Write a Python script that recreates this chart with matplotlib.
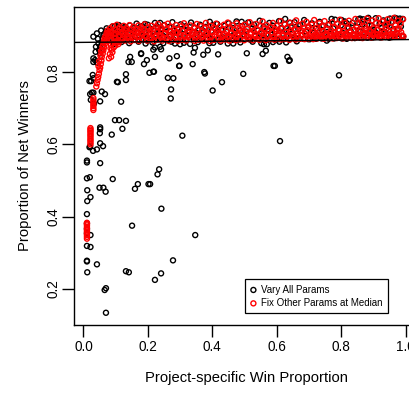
import numpy as np
import matplotlib
matplotlib.use("Agg")
import matplotlib.pyplot as plt

plt.rcParams["font.family"] = ["Liberation Sans", "DejaVu Sans"]

# (project-specific win proportion, proportion of net winners)
# black: all params varied
vary_pts = [
    # scattered lower cloud
    (0.219, 0.801), (0.297, 0.817), (0.339, 0.822), (0.377, 0.796), (0.262, 0.784),
    (0.279, 0.783), (0.272, 0.752), (0.271, 0.727), (0.401, 0.749), (0.430, 0.772),
    (0.496, 0.795), (0.590, 0.817), (0.594, 0.817), (0.638, 0.831), (0.793, 0.791),
    (0.307, 0.624), (0.610, 0.609), (0.235, 0.531), (0.230, 0.517), (0.207, 0.490),
    (0.242, 0.422), (0.347, 0.349), (0.278, 0.279), (0.241, 0.243), (0.222, 0.225),
    (0.052, 0.647), (0.052, 0.642), (0.051, 0.631), (0.088, 0.627), (0.121, 0.643),
    (0.098, 0.667), (0.111, 0.667), (0.132, 0.665), (0.052, 0.603), (0.061, 0.595),
    (0.019, 0.592), (0.030, 0.582), (0.042, 0.586), (0.011, 0.555), (0.011, 0.550),
    (0.052, 0.548), (0.011, 0.506), (0.020, 0.509), (0.091, 0.504), (0.012, 0.473),
    (0.022, 0.454), (0.012, 0.443), (0.050, 0.480), (0.062, 0.480), (0.069, 0.469),
    (0.160, 0.477), (0.169, 0.490), (0.202, 0.490), (0.011, 0.407), (0.011, 0.381),
    (0.011, 0.366), (0.011, 0.354), (0.022, 0.349), (0.011, 0.319), (0.022, 0.316),
    (0.011, 0.278), (0.011, 0.276), (0.042, 0.268), (0.012, 0.246), (0.151, 0.375),
    (0.132, 0.249), (0.141, 0.246), (0.070, 0.202), (0.066, 0.197), (0.070, 0.134),
    (0.021, 0.595),
    # knee region
    (0.038, 0.856), (0.049, 0.861), (0.031, 0.838), (0.042, 0.826), (0.031, 0.828),
    (0.029, 0.792), (0.031, 0.783), (0.024, 0.775), (0.019, 0.775), (0.104, 0.773),
    (0.145, 0.842), (0.140, 0.828), (0.150, 0.828), (0.179, 0.850), (0.188, 0.822),
    (0.197, 0.833), (0.222, 0.842), (0.205, 0.798), (0.217, 0.801), (0.132, 0.794),
    (0.132, 0.778), (0.107, 0.772), (0.267, 0.838), (0.290, 0.844), (0.298, 0.817),
    (0.026, 0.743), (0.021, 0.739), (0.031, 0.743), (0.023, 0.723), (0.033, 0.713),
    (0.057, 0.746), (0.067, 0.739), (0.052, 0.719), (0.117, 0.718),
    (0.031, 0.898), (0.042, 0.907), (0.047, 0.879), (0.052, 0.870), (0.057, 0.879),
    (0.036, 0.833), (0.052, 0.852), (0.060, 0.893), (0.065, 0.905), (0.070, 0.912),
    (0.074, 0.898), (0.068, 0.887), (0.062, 0.902), (0.045, 0.892), (0.039, 0.870),
    (0.055, 0.915), (0.072, 0.921), (0.078, 0.889),
    # just below the band
    (0.300, 0.877), (0.346, 0.867), (0.342, 0.854), (0.386, 0.860), (0.372, 0.848),
    (0.418, 0.849), (0.375, 0.800), (0.507, 0.852), (0.556, 0.850), (0.566, 0.859),
    (0.569, 0.877), (0.560, 0.877), (0.633, 0.842), (0.640, 0.833), (0.608, 0.884),
    (0.217, 0.862), (0.222, 0.868), (0.238, 0.870), (0.241, 0.863), (0.284, 0.879),
    (0.403, 0.881), (0.465, 0.879), (0.755, 0.887), (0.179, 0.852),
    (0.095, 0.878), (0.118, 0.883), (0.142, 0.880), (0.171, 0.884), (0.193, 0.879),
    (0.214, 0.882), (0.248, 0.880), (0.273, 0.884), (0.312, 0.881), (0.331, 0.878),
    (0.355, 0.883), (0.391, 0.880), (0.425, 0.884), (0.448, 0.879), (0.487, 0.882),
    (0.525, 0.884), (0.552, 0.880), (0.588, 0.883), (0.629, 0.882), (0.662, 0.885),
    # main band
    (0.080, 0.905), (0.084, 0.918), (0.087, 0.893), (0.090, 0.926), (0.093, 0.900),
    (0.096, 0.912), (0.099, 0.887), (0.102, 0.921), (0.106, 0.903), (0.110, 0.930),
    (0.113, 0.895), (0.117, 0.915), (0.121, 0.908), (0.125, 0.889), (0.128, 0.925),
    (0.132, 0.899), (0.136, 0.917), (0.140, 0.906), (0.144, 0.929), (0.148, 0.892),
    (0.152, 0.913), (0.156, 0.921), (0.160, 0.898), (0.165, 0.934), (0.169, 0.909),
    (0.173, 0.889), (0.177, 0.918), (0.182, 0.927), (0.186, 0.901), (0.190, 0.912),
    (0.195, 0.893), (0.199, 0.931), (0.204, 0.905), (0.208, 0.920), (0.213, 0.897),
    (0.218, 0.914), (0.222, 0.936), (0.227, 0.890), (0.232, 0.923), (0.236, 0.908),
    (0.241, 0.917), (0.246, 0.899), (0.251, 0.930), (0.256, 0.911), (0.261, 0.891),
    (0.266, 0.925), (0.271, 0.903), (0.276, 0.938), (0.281, 0.914), (0.286, 0.896),
    (0.291, 0.921), (0.297, 0.907), (0.302, 0.932), (0.307, 0.890), (0.313, 0.918),
    (0.318, 0.927), (0.323, 0.900), (0.329, 0.912), (0.334, 0.937), (0.340, 0.895),
    (0.345, 0.922), (0.351, 0.908), (0.357, 0.916), (0.362, 0.931), (0.368, 0.892),
    (0.374, 0.910), (0.380, 0.925), (0.386, 0.902), (0.392, 0.939), (0.397, 0.914),
    (0.403, 0.889), (0.409, 0.920), (0.415, 0.933), (0.421, 0.905), (0.427, 0.917),
    (0.433, 0.896), (0.439, 0.928), (0.445, 0.911), (0.451, 0.935), (0.457, 0.899),
    (0.463, 0.922), (0.469, 0.908), (0.475, 0.940), (0.481, 0.893), (0.487, 0.916),
    (0.493, 0.927), (0.499, 0.904), (0.505, 0.912), (0.511, 0.937), (0.517, 0.891),
    (0.523, 0.920), (0.529, 0.931), (0.535, 0.901), (0.541, 0.915), (0.547, 0.942),
    (0.553, 0.907), (0.559, 0.925), (0.565, 0.894), (0.571, 0.918), (0.577, 0.936),
    (0.583, 0.903), (0.589, 0.928), (0.595, 0.912), (0.601, 0.890), (0.607, 0.941),
    (0.613, 0.921), (0.619, 0.906), (0.625, 0.932), (0.631, 0.897), (0.637, 0.915),
    (0.643, 0.926), (0.649, 0.908), (0.655, 0.938), (0.661, 0.893), (0.667, 0.919),
    (0.673, 0.930), (0.679, 0.902), (0.685, 0.944), (0.691, 0.913), (0.697, 0.924),
    (0.703, 0.891), (0.709, 0.935), (0.715, 0.909), (0.721, 0.920), (0.727, 0.899),
    (0.733, 0.939), (0.739, 0.916), (0.745, 0.928), (0.751, 0.894), (0.757, 0.911),
    (0.763, 0.933), (0.769, 0.905), (0.775, 0.921), (0.781, 0.945), (0.787, 0.897),
    (0.793, 0.918), (0.799, 0.929), (0.805, 0.908), (0.811, 0.940), (0.817, 0.892),
    (0.823, 0.923), (0.829, 0.914), (0.835, 0.936), (0.841, 0.903), (0.847, 0.926),
    (0.853, 0.946), (0.859, 0.911), (0.865, 0.932), (0.871, 0.898), (0.877, 0.920),
    (0.883, 0.941), (0.889, 0.907), (0.895, 0.928), (0.901, 0.916), (0.907, 0.949),
    (0.913, 0.901), (0.919, 0.934), (0.925, 0.922), (0.931, 0.943), (0.937, 0.910),
    (0.943, 0.930), (0.949, 0.895), (0.955, 0.938), (0.961, 0.919), (0.967, 0.950),
    (0.973, 0.905), (0.979, 0.940), (0.985, 0.926), (0.991, 0.947),
    # top edge
    (0.098, 0.927), (0.109, 0.924), (0.127, 0.921), (0.191, 0.933), (0.238, 0.936),
    (0.402, 0.930), (0.491, 0.939), (0.626, 0.947), (0.641, 0.936), (0.770, 0.947),
    (0.801, 0.944), (0.817, 0.935), (0.858, 0.948), (0.868, 0.946), (0.884, 0.950),
    (0.951, 0.948), (0.972, 0.948), (0.982, 0.948), (0.946, 0.935), (0.988, 0.900),
    (0.905, 0.911), (0.925, 0.911), (0.935, 0.911),
    # dense row just above the reference line
    (0.158, 0.889), (0.181, 0.891), (0.197, 0.888), (0.223, 0.890), (0.238, 0.892),
    (0.262, 0.889), (0.279, 0.891), (0.301, 0.890), (0.318, 0.888), (0.343, 0.892),
    (0.359, 0.890), (0.382, 0.889), (0.398, 0.891), (0.421, 0.890), (0.437, 0.892),
    (0.462, 0.889), (0.479, 0.890), (0.501, 0.891), (0.518, 0.890), (0.542, 0.892),
    (0.558, 0.890), (0.583, 0.891), (0.597, 0.890), (0.622, 0.891), (0.641, 0.892),
    (0.657, 0.891), (0.683, 0.892), (0.698, 0.891), (0.722, 0.892), (0.739, 0.893),
    (0.761, 0.892), (0.778, 0.893), (0.802, 0.893), (0.818, 0.894), (0.842, 0.894),
    (0.858, 0.895), (0.881, 0.895), (0.899, 0.896), (0.921, 0.896), (0.938, 0.897),
    (0.957, 0.897), (0.974, 0.898), (0.992, 0.898),
]

# red: other params fixed at median
median_pts = [
    # left strips
    (0.011, 0.339), (0.011, 0.344), (0.011, 0.349), (0.011, 0.353), (0.011, 0.358),
    (0.011, 0.362), (0.011, 0.367), (0.011, 0.371), (0.011, 0.376), (0.011, 0.380),
    (0.011, 0.383),
    (0.022, 0.600), (0.022, 0.605), (0.022, 0.610), (0.022, 0.614), (0.022, 0.619),
    (0.022, 0.624), (0.022, 0.628), (0.022, 0.633), (0.022, 0.637), (0.022, 0.641),
    (0.022, 0.645),
    (0.031, 0.695), (0.031, 0.700), (0.031, 0.706), (0.031, 0.711), (0.031, 0.717),
    (0.031, 0.722), (0.031, 0.728),
    # rising curve
    (0.040, 0.760), (0.042, 0.769), (0.044, 0.778), (0.046, 0.786), (0.048, 0.795),
    (0.050, 0.805), (0.052, 0.812), (0.054, 0.822), (0.056, 0.832), (0.057, 0.842),
    (0.060, 0.851), (0.062, 0.860), (0.064, 0.868), (0.067, 0.879), (0.070, 0.886),
    (0.073, 0.893), (0.076, 0.900), (0.078, 0.907), (0.081, 0.912),
    (0.049, 0.830), (0.053, 0.845), (0.058, 0.861), (0.061, 0.874), (0.065, 0.889),
    (0.069, 0.899), (0.072, 0.908), (0.075, 0.915), (0.047, 0.816), (0.055, 0.858),
    (0.059, 0.870), (0.063, 0.882), (0.066, 0.895),
    (0.085, 0.875), (0.088, 0.862), (0.091, 0.880), (0.094, 0.868), (0.097, 0.884),
    (0.082, 0.850), (0.086, 0.842), (0.090, 0.855), (0.079, 0.838), (0.084, 0.866),
    (0.099, 0.873), (0.103, 0.881), (0.108, 0.877), (0.112, 0.884),
    # main band
    (0.083, 0.921), (0.086, 0.900), (0.089, 0.912), (0.092, 0.927), (0.095, 0.895),
    (0.098, 0.917), (0.101, 0.906), (0.104, 0.931), (0.107, 0.913), (0.110, 0.898),
    (0.113, 0.924), (0.116, 0.909), (0.119, 0.919), (0.122, 0.893), (0.125, 0.928),
    (0.128, 0.904), (0.131, 0.915), (0.134, 0.922), (0.137, 0.899), (0.140, 0.911),
    (0.143, 0.930), (0.146, 0.907), (0.149, 0.918), (0.152, 0.896), (0.155, 0.925),
    (0.158, 0.913), (0.161, 0.903), (0.164, 0.920), (0.168, 0.909), (0.171, 0.929),
    (0.174, 0.897), (0.177, 0.915), (0.180, 0.924), (0.184, 0.905), (0.187, 0.918),
    (0.190, 0.932), (0.194, 0.900), (0.197, 0.912), (0.201, 0.923), (0.204, 0.894),
    (0.208, 0.916), (0.211, 0.928), (0.215, 0.906), (0.218, 0.919), (0.222, 0.899),
    (0.225, 0.926), (0.229, 0.911), (0.232, 0.933), (0.236, 0.903), (0.240, 0.915),
    (0.243, 0.922), (0.247, 0.896), (0.251, 0.929), (0.254, 0.908), (0.258, 0.917),
    (0.262, 0.934), (0.266, 0.901), (0.269, 0.913), (0.273, 0.925), (0.277, 0.907),
    (0.281, 0.920), (0.285, 0.895), (0.288, 0.930), (0.292, 0.910), (0.296, 0.918),
    (0.300, 0.902), (0.304, 0.927), (0.308, 0.914), (0.312, 0.935), (0.316, 0.898),
    (0.320, 0.921), (0.324, 0.909), (0.328, 0.916), (0.332, 0.929), (0.336, 0.904),
    (0.340, 0.912), (0.344, 0.924), (0.348, 0.895), (0.352, 0.933), (0.356, 0.918),
    (0.360, 0.906), (0.364, 0.927), (0.368, 0.914), (0.372, 0.900), (0.376, 0.921),
    (0.380, 0.936), (0.384, 0.909), (0.388, 0.917), (0.392, 0.897), (0.396, 0.928),
    (0.400, 0.912), (0.404, 0.923), (0.408, 0.903), (0.412, 0.934), (0.416, 0.915),
    (0.420, 0.908), (0.424, 0.926), (0.428, 0.896), (0.432, 0.919), (0.436, 0.931),
    (0.440, 0.905), (0.444, 0.913), (0.448, 0.937), (0.452, 0.900), (0.456, 0.922),
    (0.460, 0.910), (0.464, 0.929), (0.468, 0.917), (0.472, 0.898), (0.476, 0.935),
    (0.480, 0.907), (0.484, 0.920), (0.488, 0.914), (0.492, 0.926), (0.496, 0.902),
    (0.500, 0.931), (0.504, 0.911), (0.508, 0.919), (0.512, 0.897), (0.516, 0.938),
    (0.520, 0.909), (0.524, 0.925), (0.528, 0.915), (0.532, 0.904), (0.536, 0.933),
    (0.540, 0.918), (0.544, 0.899), (0.548, 0.927), (0.552, 0.912), (0.556, 0.940),
    (0.560, 0.906), (0.564, 0.921), (0.568, 0.930), (0.572, 0.901), (0.576, 0.916),
    (0.580, 0.924), (0.584, 0.909), (0.588, 0.936), (0.592, 0.897), (0.596, 0.919),
    (0.600, 0.928), (0.604, 0.905), (0.608, 0.913), (0.612, 0.941), (0.616, 0.920),
    (0.620, 0.900), (0.624, 0.932), (0.628, 0.910), (0.632, 0.923), (0.636, 0.903),
    (0.640, 0.937), (0.644, 0.915), (0.648, 0.926), (0.652, 0.898), (0.656, 0.918),
    (0.660, 0.943), (0.664, 0.908), (0.668, 0.929), (0.672, 0.913), (0.676, 0.901),
    (0.680, 0.934), (0.684, 0.921), (0.688, 0.906), (0.692, 0.939), (0.696, 0.916),
    (0.700, 0.925), (0.704, 0.899), (0.708, 0.931), (0.712, 0.911), (0.716, 0.944),
    (0.720, 0.904), (0.724, 0.922), (0.728, 0.917), (0.732, 0.935), (0.736, 0.898),
    (0.740, 0.927), (0.744, 0.912), (0.748, 0.941), (0.752, 0.906), (0.756, 0.920),
    (0.760, 0.930), (0.764, 0.901), (0.768, 0.915), (0.772, 0.938), (0.776, 0.909),
    (0.780, 0.924), (0.784, 0.897), (0.788, 0.933), (0.792, 0.918), (0.796, 0.945),
    (0.800, 0.907), (0.804, 0.926), (0.808, 0.913), (0.812, 0.936), (0.816, 0.900),
    (0.820, 0.921), (0.824, 0.942), (0.828, 0.910), (0.832, 0.929), (0.836, 0.904),
    (0.840, 0.917), (0.844, 0.947), (0.848, 0.923), (0.852, 0.898), (0.856, 0.935),
    (0.860, 0.914), (0.864, 0.940), (0.868, 0.906), (0.872, 0.926), (0.876, 0.919),
    (0.880, 0.948), (0.884, 0.902), (0.888, 0.931), (0.892, 0.912), (0.896, 0.943),
    (0.900, 0.921), (0.904, 0.905), (0.908, 0.936), (0.912, 0.916), (0.916, 0.949),
    (0.920, 0.899), (0.924, 0.927), (0.928, 0.940), (0.932, 0.910), (0.936, 0.932),
    (0.940, 0.920), (0.944, 0.946), (0.948, 0.903), (0.952, 0.925), (0.956, 0.937),
    (0.960, 0.913), (0.964, 0.950), (0.968, 0.929), (0.972, 0.908), (0.976, 0.942),
    (0.980, 0.918), (0.984, 0.934), (0.988, 0.901), (0.992, 0.946),
    # lower layer of the band
    (0.088, 0.889), (0.094, 0.905), (0.100, 0.894), (0.105, 0.886), (0.111, 0.902),
    (0.117, 0.890), (0.123, 0.910), (0.129, 0.887), (0.135, 0.896), (0.141, 0.892),
    (0.147, 0.885), (0.153, 0.904), (0.159, 0.889), (0.166, 0.898), (0.172, 0.886),
    (0.178, 0.907), (0.185, 0.891), (0.191, 0.899), (0.198, 0.887), (0.205, 0.909),
    (0.212, 0.893), (0.219, 0.885), (0.226, 0.901), (0.233, 0.890), (0.239, 0.897),
    (0.245, 0.887), (0.252, 0.906), (0.259, 0.893), (0.265, 0.886), (0.272, 0.899),
    (0.279, 0.889), (0.286, 0.910), (0.293, 0.886), (0.299, 0.895), (0.306, 0.889),
    (0.313, 0.903), (0.319, 0.887), (0.326, 0.897), (0.333, 0.891), (0.339, 0.908),
    (0.346, 0.886), (0.353, 0.900), (0.359, 0.890), (0.366, 0.895), (0.373, 0.887),
    (0.379, 0.905), (0.386, 0.892), (0.393, 0.886), (0.399, 0.899), (0.406, 0.889),
    (0.413, 0.910), (0.419, 0.893), (0.426, 0.887), (0.433, 0.903), (0.439, 0.890),
    (0.446, 0.896), (0.453, 0.887), (0.459, 0.907), (0.466, 0.892), (0.473, 0.888),
    (0.479, 0.901), (0.486, 0.890), (0.493, 0.911), (0.499, 0.888), (0.506, 0.897),
    (0.513, 0.891), (0.519, 0.905), (0.526, 0.888), (0.533, 0.898), (0.539, 0.892),
    (0.546, 0.889), (0.553, 0.909), (0.559, 0.893), (0.566, 0.888), (0.573, 0.902),
    (0.579, 0.891), (0.586, 0.897), (0.593, 0.889), (0.599, 0.912), (0.606, 0.893),
    (0.613, 0.890), (0.619, 0.904), (0.626, 0.892), (0.633, 0.898), (0.639, 0.889),
    (0.646, 0.909), (0.653, 0.893), (0.659, 0.890), (0.666, 0.901), (0.673, 0.892),
    (0.679, 0.914), (0.686, 0.891), (0.693, 0.899), (0.699, 0.893), (0.706, 0.907),
    (0.713, 0.891), (0.719, 0.897), (0.726, 0.893), (0.733, 0.912), (0.739, 0.894),
    (0.746, 0.892), (0.753, 0.903), (0.759, 0.894), (0.766, 0.909), (0.773, 0.893),
    (0.779, 0.900), (0.786, 0.894), (0.793, 0.914), (0.799, 0.895), (0.806, 0.893),
    (0.813, 0.905), (0.819, 0.895), (0.826, 0.911), (0.833, 0.894), (0.839, 0.899),
    (0.846, 0.895), (0.853, 0.916), (0.859, 0.896), (0.866, 0.894), (0.873, 0.908),
    (0.879, 0.897), (0.886, 0.913), (0.893, 0.895), (0.899, 0.902), (0.906, 0.897),
    (0.913, 0.918), (0.919, 0.897), (0.926, 0.896), (0.933, 0.909), (0.939, 0.898),
    (0.946, 0.915), (0.953, 0.897), (0.959, 0.905), (0.966, 0.899), (0.973, 0.920),
    (0.979, 0.898), (0.986, 0.910), (0.993, 0.899),
    # dense strip at the right
    (0.712, 0.899), (0.726, 0.900), (0.741, 0.899), (0.753, 0.901), (0.769, 0.900),
    (0.782, 0.902), (0.797, 0.901), (0.811, 0.902), (0.826, 0.901), (0.839, 0.903),
    (0.853, 0.902), (0.868, 0.903), (0.882, 0.902), (0.897, 0.904), (0.911, 0.903),
    (0.925, 0.904), (0.940, 0.903), (0.954, 0.905), (0.967, 0.904),
]

# reference line drawn across the plot
ref_intercept = 0.8822
ref_slope = 0.0077

xticks = [0.0, 0.2, 0.4, 0.6, 0.8, 1.0]
xticklabels = ["0.0", "0.2", "0.4", "0.6", "0.8", "1.0"]
yticks = [0.2, 0.4, 0.6, 0.8]
yticklabels = ["0.2", "0.4", "0.6", "0.8"]

vary = np.array(vary_pts)
med = np.array(median_pts)

fig = plt.figure(figsize=(4.10, 3.94), dpi=100)
# right side of the box runs past the picture edge, as in the original crop
ax = fig.add_axes([0.1798, 0.1759, 0.8412, 0.8063])

ax.scatter(vary[:, 0], vary[:, 1], s=13, facecolors="none",
           edgecolors="black", linewidths=1.0, label="Vary All Params")
ax.scatter(med[:, 0], med[:, 1], s=13, facecolors="none",
           edgecolors="red", linewidths=1.0, label="Fix Other Params at Median")
ax.axline((0, ref_intercept), slope=ref_slope, color="black", lw=1.0)

ax.set_xlim(-0.03, 1.04)
ax.set_ylim(0.101, 0.980)
ax.set_xticks(xticks)
ax.set_xticklabels(xticklabels)
ax.set_yticks(yticks)
ax.set_yticklabels(yticklabels, rotation=90, va="center")
ax.tick_params(length=8.3, width=1.0, labelsize=9.8)
ax.tick_params(axis="x", pad=3)
ax.tick_params(axis="y", pad=1.5)
for sp in ax.spines.values():
    sp.set_linewidth(1.0)

ax.set_xlabel("Project-specific Win Proportion", fontsize=10.6, va="center")
ax.xaxis.set_label_coords(0.5, -0.168)
ax.set_ylabel("Proportion of Net Winners", fontsize=10.6, va="center")
ax.yaxis.set_label_coords(-0.141, 0.5)

leg = ax.legend(loc="lower left", bbox_to_anchor=(0.497, 0.036), fontsize=7,
                fancybox=False, framealpha=1, edgecolor="black",
                handlelength=0.6, handletextpad=0.5, borderpad=0.55,
                labelspacing=0.35, scatterpoints=1, borderaxespad=0)
leg.get_frame().set_linewidth(0.9)

fig.savefig("out.png", dpi=100)
